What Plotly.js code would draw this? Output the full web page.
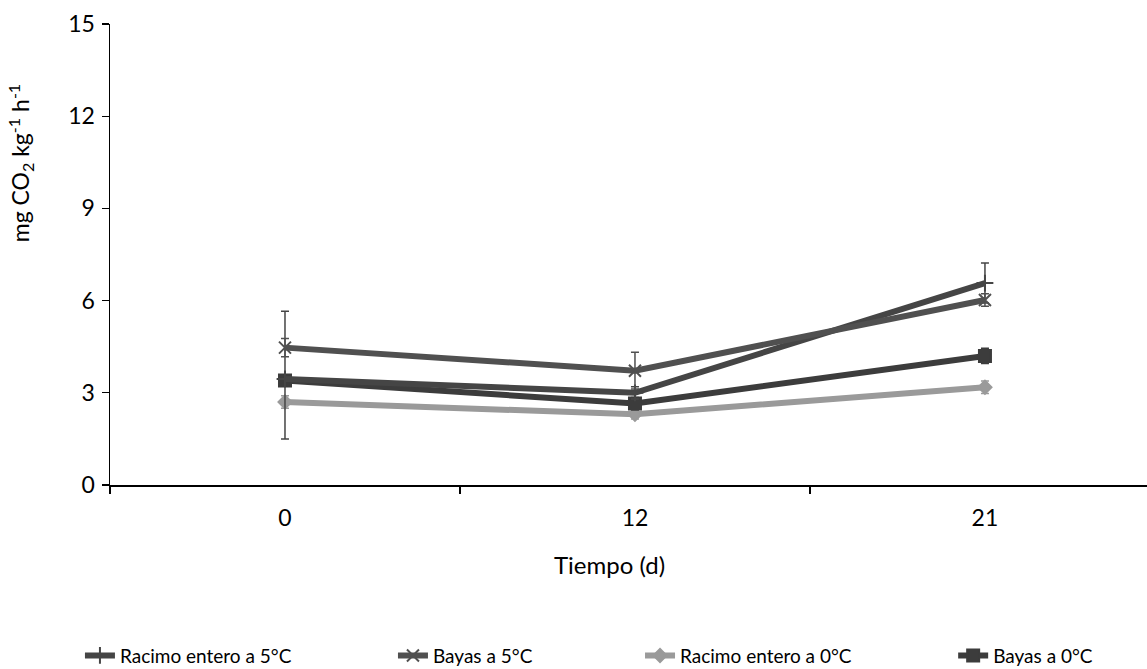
<!DOCTYPE html>
<html>
<head>
<meta charset="utf-8">
<script src="https://cdn.plot.ly/plotly-3.0.1.min.js"></script>
<style>html,body{margin:0;padding:0;background:#fff;}#chart{width:1147px;height:669px;}</style>
</head>
<body>
<div id="chart"></div>
<script>
const days = ["0", "12", "21"];
const racimo5 = [3.45, 3.0, 6.57];
const racimo5ErrPlus = [2.2, 0.2, 0.65];
const racimo5ErrMinus = [1.95, 0.2, 0.65];
const bayas5 = [4.47, 3.72, 6.02];
const bayas5Err = [0.3, 0.6, 0.2];
const racimo0 = [2.7, 2.3, 3.18];
const racimo0Err = [0.2, 0.15, 0.2];
const bayas0 = [3.4, 2.65, 4.2];
const bayas0Err = [0.15, 0.2, 0.25];
const seriesNames = ["Racimo entero a 5°C", "Bayas a 5°C", "Racimo entero a 0°C", "Bayas a 0°C"];
const yTicks = [0, 3, 6, 9, 12, 15];

const FONT = "Lato, 'Open Sans', sans-serif";

function tr(name, y, errPlus, errMinus, color, symbol, msize, lw, legend) {
  return {
    x: days, y: y, name: name, type: "scatter", mode: "lines+markers",
    line: {color: color, width: lw},
    marker: {symbol: symbol, size: msize, color: color, line: {color: color, width: 2}},
    error_y: {type: "data", symmetric: false, array: errPlus, arrayminus: errMinus, visible: true,
              color: color, thickness: 1.5, width: 4},
    legend: legend
  };
}

const data = [
  tr(seriesNames[2], racimo0, racimo0Err, racimo0Err, "#9a9a9a", "diamond", 10, 6, "legend3"),
  tr(seriesNames[3], bayas0, bayas0Err, bayas0Err, "#3c3c3c", "square", 12, 6, "legend4"),
  tr(seriesNames[0], racimo5, racimo5ErrPlus, racimo5ErrMinus, "#454545", "cross-thin", 12, 6, "legend"),
  tr(seriesNames[1], bayas5, bayas5Err, bayas5Err, "#505050", "x-thin", 12, 6, "legend2")
];

function leg(x) {
  return {xref: "container", yref: "container", x: x, y: 0.02, xanchor: "left", yanchor: "middle",
          orientation: "h", font: {family: FONT, size: 19, color: "#000"}, bgcolor: "rgba(0,0,0,0)",
          itemwidth: 30, tracegroupgap: 0};
}

const layout = {
  width: 1147, height: 669,
  margin: {l: 110, r: 0, t: 24, b: 184},
  paper_bgcolor: "#fff", plot_bgcolor: "#fff",
  showlegend: true,
  legend: leg(0.0697),
  legend2: leg(0.3426),
  legend3: leg(0.558),
  legend4: leg(0.831),
  font: {family: FONT, color: "#000"},
  xaxis: {
    type: "category", range: [-0.5, 2.463], showgrid: false, zeroline: false,
    showline: true, linecolor: "#000", linewidth: 1.5,
    ticks: "outside", tickson: "boundaries", ticklen: 7, tickcolor: "#000", tickwidth: 1.2,
    ticklabelstandoff: 12,
    tickfont: {family: FONT, size: 23, color: "#000"}, automargin: false
  },
  yaxis: {
    range: [0, 15], tickvals: yTicks, showgrid: false, zeroline: false,
    showline: true, linecolor: "#000", linewidth: 1.5,
    ticks: "outside", ticklen: 7, tickcolor: "#000", tickwidth: 1.2,
    ticklabelstandoff: 2,
    tickfont: {family: FONT, size: 23, color: "#000"}, automargin: false
  },
  annotations: [
    {text: "Tiempo (d)", xref: "paper", yref: "paper", x: 0.482, y: -0.1735,
     xanchor: "center", yanchor: "middle", showarrow: false, font: {family: FONT, size: 24, color: "#000"}},
    {text: "mg CO<sub>2</sub> kg<sup>-1</sup> h<sup>-1</sup>", xref: "paper", yref: "paper",
     x: -0.0868, y: 0.70, xanchor: "center", yanchor: "middle", textangle: -90, showarrow: false,
     font: {family: FONT, size: 23, color: "#000"}}
  ]
};

Plotly.newPlot("chart", data, layout, {displayModeBar: false, staticPlot: true});
</script>
</body>
</html>
